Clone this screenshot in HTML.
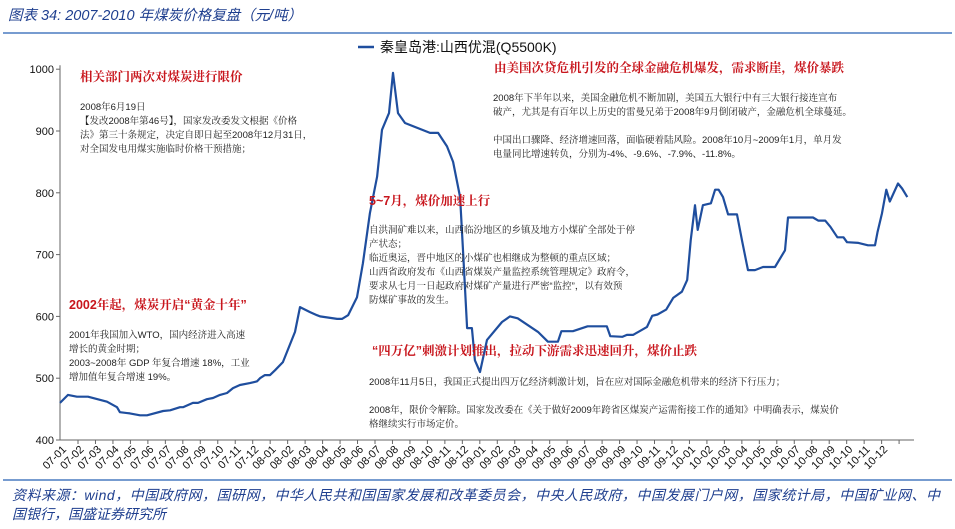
<!DOCTYPE html>
<html><head><meta charset="utf-8">
<style>
body{margin:0;background:#fff;width:955px;height:524px;overflow:hidden;font-family:"Liberation Sans","Noto Sans CJK SC",sans-serif;}
svg text{font-family:"Liberation Sans","Noto Sans CJK SC",sans-serif;}
svg .ann text{font-family:"Liberation Sans","Noto Serif CJK SC",serif;}
</style></head><body>
<svg id="chart" width="955" height="524" viewBox="0 0 955 524">
<text x="8" y="20" fill="#1f3f8f" font-size="14.5" font-style="italic">图表 34:  2007-2010 年煤炭价格复盘（元/吨）</text>
<line x1="3" y1="33" x2="952" y2="33" stroke="#4a7bc0" stroke-width="1.5"/>
<g>
<line x1="358" y1="47" x2="374" y2="47" stroke="#1f4e9e" stroke-width="2.5"/>
<text x="380" y="52" font-size="14" fill="#111">秦皇岛港:山西优混(Q5500K)</text>
</g>
<g id="axes"></g>
<path id="series" fill="none" stroke="#1f4e9e" stroke-width="2.2" stroke-linejoin="round"/>
<g class="ann" font-size="9.5" fill="#222">
<text x="80" y="81" fill="#c8161d" font-size="12.5" font-weight="bold">相关部门两次对煤炭进行限价</text>
<text x="80" y="110">2008年6月19日</text>
<text x="80" y="124">【发改2008年第46号】，国家发改委发文根据《价格</text>
<text x="80" y="138">法》第三十条规定，决定自即日起至2008年12月31日，</text>
<text x="80" y="152">对全国发电用煤实施临时价格干预措施；</text>
<text x="69" y="309" fill="#c8161d" font-size="12.5" font-weight="bold">2002年起，煤炭开启“黄金十年”</text>
<text x="69" y="338">2001年我国加入WTO，国内经济进入高速</text>
<text x="69" y="352">增长的黄金时期；</text>
<text x="69" y="366">2003~2008年 GDP 年复合增速 18%，工业</text>
<text x="69" y="380">增加值年复合增速 19%。</text>
<text x="369" y="205" fill="#c8161d" font-size="12.5" font-weight="bold">5~7月，煤价加速上行</text>
<text x="369" y="233">自洪洞矿难以来，山西临汾地区的乡镇及地方小煤矿全部处于停</text>
<text x="369" y="247">产状态；</text>
<text x="369" y="261">临近奥运，晋中地区的小煤矿也相继成为整顿的重点区域；</text>
<text x="369" y="275">山西省政府发布《山西省煤炭产量监控系统管理规定》政府令，</text>
<text x="369" y="289">要求从七月一日起政府对煤矿产量进行严密“监控”，以有效预</text>
<text x="369" y="303">防煤矿事故的发生。</text>
<text x="372" y="355" fill="#c8161d" font-size="12.5" font-weight="bold">“四万亿”刺激计划推出，拉动下游需求迅速回升，煤价止跌</text>
<text x="369" y="385">2008年11月5日，我国正式提出四万亿经济刺激计划，旨在应对国际金融危机带来的经济下行压力；</text>
<text x="369" y="413">2008年，限价令解除。国家发改委在《关于做好2009年跨省区煤炭产运需衔接工作的通知》中明确表示，煤炭价</text>
<text x="369" y="427">格继续实行市场定价。</text>
<text x="494" y="72" fill="#c8161d" font-size="12.5" font-weight="bold">由美国次贷危机引发的全球金融危机爆发，需求断崖，煤价暴跌</text>
<text x="493" y="101">2008年下半年以来，美国金融危机不断加剧，美国五大银行中有三大银行接连宣布</text>
<text x="493" y="115">破产，尤其是有百年以上历史的雷曼兄弟于2008年9月倒闭破产，金融危机全球蔓延。</text>
<text x="493" y="143">中国出口骤降、经济增速回落，面临硬着陆风险。2008年10月~2009年1月，单月发</text>
<text x="493" y="157">电量同比增速转负，分别为-4%、-9.6%、-7.9%、-11.8%。</text>
</g>
<line x1="3" y1="480" x2="952" y2="480" stroke="#4a7bc0" stroke-width="1.5"/>
<text x="12" y="500" fill="#1f3f8f" font-size="14" font-style="italic" textLength="928">资料来源：wind，中国政府网，国研网，中华人民共和国国家发展和改革委员会，中央人民政府，中国发展门户网，国家统计局，中国矿业网、中</text>
<text x="12" y="519" fill="#1f3f8f" font-size="14" font-style="italic">国银行，国盛证券研究所</text>
</svg>
<script>
const months=[0,0.46,0.97,1.6,2.69,3.26,3.43,4.0,4.58,4.98,5.9,6.3,6.87,7.04,7.61,7.9,8.41,8.76,9.16,9.56,9.9,10.3,10.87,11.28,11.45,11.73,12.02,12.31,12.76,13.45,13.74,14.31,14.71,14.88,15.86,16.14,16.49,17.0,17.34,17.74,18.15,18.43,18.83,19.06,19.35,19.75,21.18,21.64,22.15,22.5,22.9,23.07,23.3,23.58,23.75,24.04,24.44,25.3,25.76,26.2,27.36,27.93,28.5,28.7,29.36,30.2,31.3,31.5,32.2,32.45,32.8,33.1,33.6,33.9,34.2,34.7,35.1,35.6,35.9,36.1,36.35,36.5,36.8,37.26,37.5,37.7,37.95,38.24,38.75,39.04,39.3,39.38,39.78,40.24,40.93,41.5,41.67,43.1,43.4,43.8,44.1,44.5,44.85,45.05,45.7,46.25,46.65,46.8,47.05,47.3,47.5,47.97,48.2,48.5];
const prices=[460,473,470,470,462,453,445,443,440,440,447,448,453,453,460,460,466,468,473,476,484,489,492,495,500,505,505,513,526,575,615,607,602,600,596,596,602,631,686,767,826,902,929,994,929,913,897,897,875,850,793,707,581,581,529,510,562,591,600,597,575,559,559,576,576,584,584,568,567,570,570,575,583,601,603,611,630,640,659,723,780,740,780,783,805,805,793,765,765,723,686,675,675,680,680,707,760,760,755,755,745,728,728,720,719,715,715,737,767,805,786,815,807,793,786,786];
const yTicks=[400,500,600,700,800,900,1000];
const xLabels=[];
for(const y of ['07','08','09','10'])for(let m=1;m<=12;m++)xLabels.push(y+'-'+String(m).padStart(2,'0'));
const X0=60,X1=914,MW=17.47,Y0=440,YS=0.618;
const xs=m=>X0+m*MW, ys=v=>Y0-(v-400)*YS;
const NS='http://www.w3.org/2000/svg';
const ax=document.getElementById('axes');
function mk(t,a){const e=document.createElementNS(NS,t);for(const k in a)e.setAttribute(k,a[k]);ax.appendChild(e);return e;}
let e=mk('line',{x1:X0,y1:ys(1000)-4,x2:X0,y2:Y0,stroke:'#666'});


e=mk('line',{x1:X0,y1:Y0,x2:X1,y2:Y0,stroke:'#666'});


yTicks.forEach(v=>{
  mk('line',{x1:X0-4,y1:ys(v),x2:X0,y2:ys(v),stroke:'#666'});
  const t=mk('text',{x:X0-6,y:ys(v)+4,'text-anchor':'end','font-size':11,fill:'#111'});
  t.textContent=v;
  
  
});
xLabels.forEach((l,i)=>{
  const tx=78+i*MW;
  mk('line',{x1:tx,y1:Y0,x2:tx,y2:Y0+4,stroke:'#666'});
  const t=mk('text',{x:0,y:0,'text-anchor':'end','font-size':11,fill:'#111',transform:`translate(${67+i*MW},${Y0+10}) rotate(-45)`});
  t.textContent=l;
  
  
});
document.getElementById('series').setAttribute('d',months.map((m,i)=>(i?'L':'M')+xs(m).toFixed(1)+','+ys(prices[i]).toFixed(1)).join(''));
</script>
</body></html>
